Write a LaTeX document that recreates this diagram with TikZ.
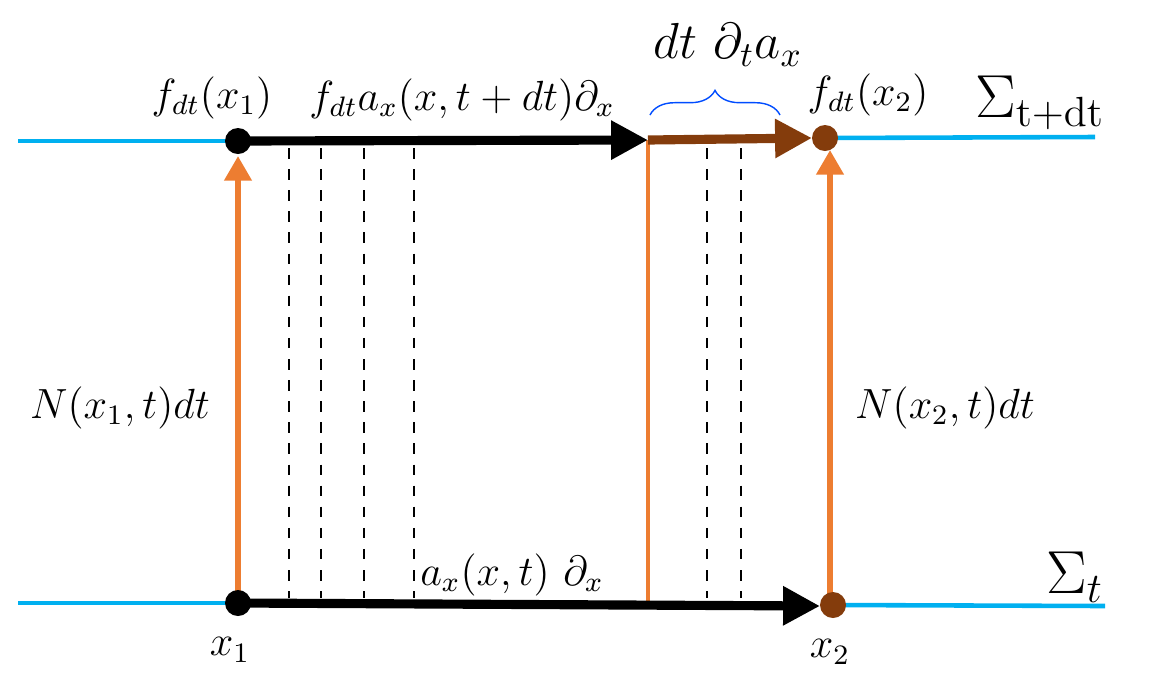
\documentclass[tikz,border=0pt]{standalone}
\usepackage{amsmath}
\usepackage{tikz}
\usetikzlibrary{arrows.meta}
\usetikzlibrary{decorations.pathreplacing}
\definecolor{skyline}{RGB}{0,176,240}
\definecolor{orangeline}{RGB}{237,125,49}
\definecolor{brownline}{RGB}{132,60,12}
\tikzset{
  surface/.style={skyline, line width=1.3pt},
  flow/.style={line width=2.6pt, -{Triangle[length=10.5pt,width=10.5pt]}},
  lapse/.style={orangeline, line width=1.7pt, -{Triangle[length=7pt,width=7.5pt]}},
  slice/.style={dashed, thin}
}
\begin{document}
\begin{tikzpicture}[x=0.01cm,y=-0.01cm]
                \useasboundingbox (0,0) rectangle (1152,675);
                % Points
                \coordinate (a1) at (238,141);
                \coordinate (a2) at (825,138);
                \coordinate (b1) at (238,603);
                \coordinate (b2) at (833,605);
                \coordinate (m1) at (648,140);
                \coordinate (m2) at (648,603);
                
                % Surfaces
                \draw[surface] (18,141) -- (a1);
                \draw[surface] (a2) -- (1095,137);
                \draw[surface] (18,603) -- (b1);
                \draw[surface] (b2) -- (1105,606);
                
                % Dashed slices
                \foreach \x in {289,321,364,414,707,741}
                    \draw[slice] (\x,148) -- (\x,598);
                
                % Lapse arrows
                \draw[lapse] (238,592) -- (238,156);
                \draw[lapse] (830,594) -- (830,150);
                \draw[orangeline, line width=1.2pt] (m2) -- (m1);
                
                % Shift arrows
                \draw[flow] (a1) -- (m1);
                \draw[flow, brownline] (m1) -- (812,138);
                \draw[flow] (b1) -- (820,606);
                
                % Dots
                \fill (a1) circle (13);
                \fill (b1) circle (13);
                \fill[brownline] (a2) circle (13);
                \fill[brownline] (b2) circle (13);
                
                % Brace
                \draw[decorate, decoration={brace, amplitude=7pt}, blue!70!cyan] (650,115) -- (780,115);
                
                % Labels
                \node[font=\large] (fa) at (212,98) {$f_{dt}(x_1)$};
                \node[font=\large] (fs) at (462,100) {$f_{dt}a_x(x,t+dt)\partial_x$};
                \node[font=\Large] (dd) at (728,45) {$dt\ \partial_t a_x$};
                \node[font=\large] (fb) at (868,95) {$f_{dt}(x_2)$};
                \node[font=\LARGE] (st) at (1040,103) {$\Sigma_{\mathrm{t+dt}}$};
                \node[font=\LARGE] (sb) at (1075,577) {$\Sigma_t$};
                \node[font=\large] (na) at (120,408) {$N(x_1,t)dt$};
                \node[font=\large] (nb) at (945,408) {$N(x_2,t)dt$};
                \node[font=\large] (ab) at (512,575) {$a_x(x,t)\ \partial_x$};
                \node[font=\large] (xa) at (230,650) {$x_1$};
                \node[font=\large] (xb) at (830,652) {$x_2$};
            \end{tikzpicture}
\end{document}
